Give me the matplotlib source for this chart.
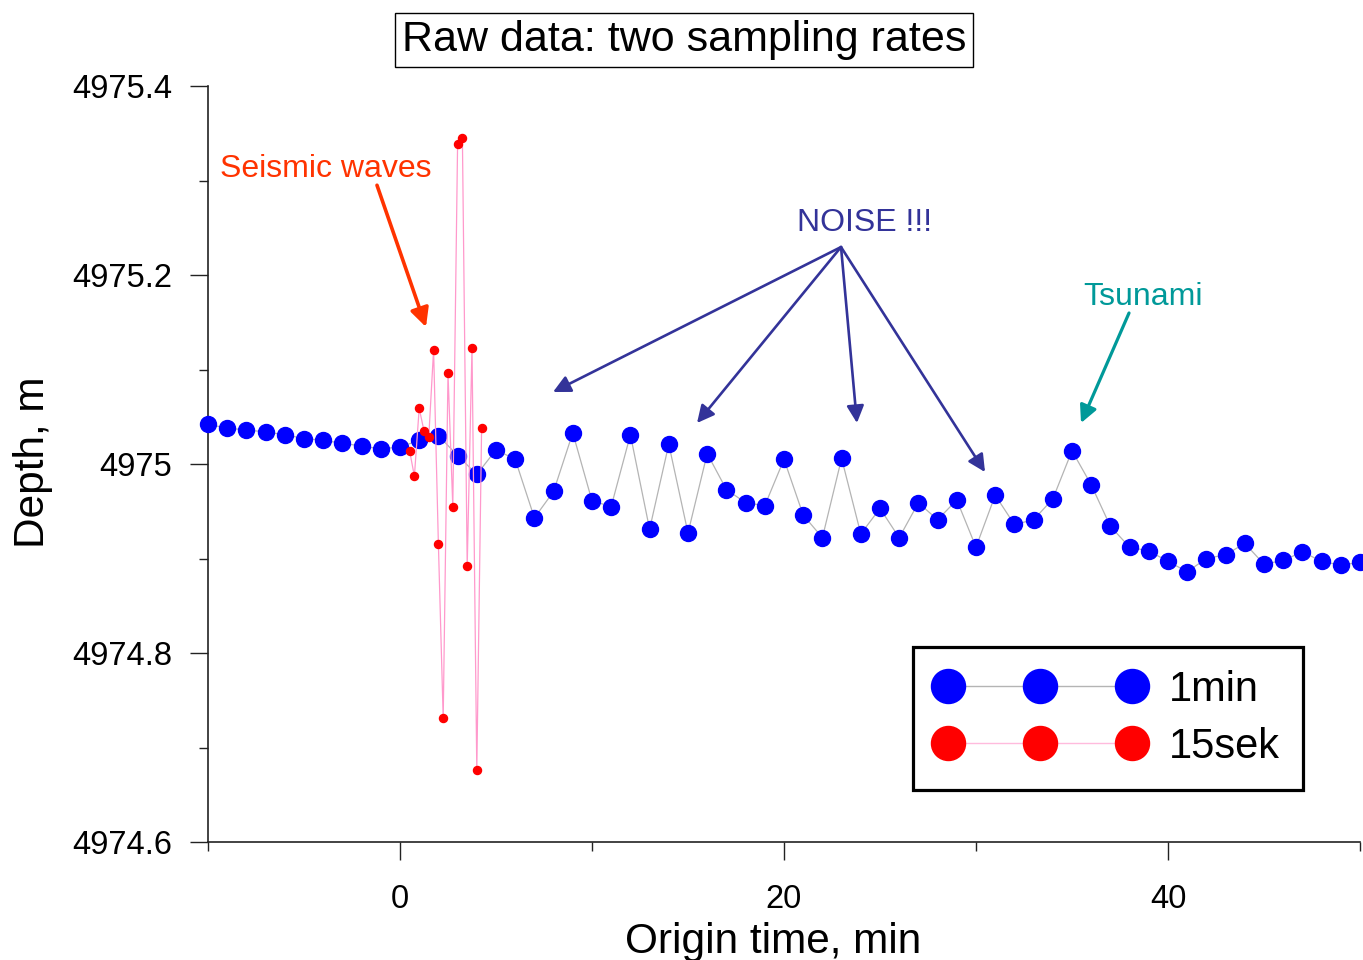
import matplotlib
matplotlib.use("Agg")
import matplotlib.pyplot as plt
from matplotlib.lines import Line2D
from matplotlib.ticker import FixedLocator, FixedFormatter

plt.rcParams['font.family'] = ['Liberation Sans', 'DejaVu Sans']

# 1-minute samples (minutes from origin time, depth in m)
t_1min = list(range(-10, 51))
depth_1min = [
    4975.042, 4975.038, 4975.036, 4975.034, 4975.031, 4975.027, 4975.025, 4975.022,
    4975.019, 4975.016, 4975.018, 4975.025, 4975.030, 4975.009, 4974.989, 4975.015,
    4975.005, 4974.943, 4974.971, 4975.033, 4974.961, 4974.955, 4975.031, 4974.931,
    4975.021, 4974.927, 4975.011, 4974.973, 4974.959, 4974.956, 4975.005, 4974.946,
    4974.922, 4975.006, 4974.926, 4974.953, 4974.922, 4974.959, 4974.941, 4974.962,
    4974.912, 4974.967, 4974.936, 4974.941, 4974.963, 4975.014, 4974.978, 4974.934,
    4974.912, 4974.908, 4974.897, 4974.886, 4974.900, 4974.904, 4974.916, 4974.894,
    4974.898, 4974.907, 4974.897, 4974.893, 4974.896,
]

# 15-second samples during the seismic waves
t_15sek = [0.5, 0.75, 1.0, 1.25, 1.5, 1.75, 2.0, 2.25,
           2.5, 2.75, 3.0, 3.25, 3.5, 3.75, 4.0, 4.25]
depth_15sek = [4975.014, 4974.987, 4975.059, 4975.035, 4975.029, 4975.121, 4974.915, 4974.731,
               4975.096, 4974.955, 4975.339, 4975.345, 4974.892, 4975.123, 4974.676, 4975.038]

x_major = [0, 20, 40]
x_minor = [-10, 10, 30, 50]
y_major = [4974.6, 4974.8, 4975.0, 4975.2, 4975.4]
y_labels = ['4974.6', '4974.8', '4975', '4975.2', '4975.4']
y_minor = [4974.7, 4974.9, 4975.1, 4975.3]

fig = plt.figure(figsize=(13.63, 9.6), dpi=100)
ax = fig.add_axes([0.1526, 0.1229, 0.8452, 0.7875])

ax.plot(t_1min, depth_1min, color='#b4b4b4', lw=0.9, marker='o', ms=11.5,
        mfc='#0000ff', mec='#0000ff', clip_on=False, zorder=3)
ax.plot(t_15sek, depth_15sek, color='#ff99cc', lw=0.9, marker='o', ms=5.8,
        mfc='#ff0000', mec='#ff0000', clip_on=False, zorder=4)

ax.set_xlim(-10, 50)
ax.set_ylim(4974.6, 4975.4)

ax.xaxis.set_major_locator(FixedLocator(x_major))
ax.xaxis.set_minor_locator(FixedLocator(x_minor))
ax.yaxis.set_major_locator(FixedLocator(y_major))
ax.yaxis.set_major_formatter(FixedFormatter(y_labels))
ax.yaxis.set_minor_locator(FixedLocator(y_minor))

for s in ['top', 'right']:
    ax.spines[s].set_visible(False)
for s in ['left', 'bottom']:
    ax.spines[s].set_color('#222222')
    ax.spines[s].set_linewidth(1.2)

ax.tick_params(which='major', length=13, width=1, color='#222222', labelsize=23.5)
ax.tick_params(which='minor', length=6.5, width=1, color='#222222')
ax.tick_params(axis='x', which='major', pad=17)
ax.tick_params(axis='y', which='major', pad=13)

fig.text(33 / 1363, 1 - 462 / 960, 'Depth, m', rotation=90, ha='center', va='center',
         fontsize=30.5)
fig.text(773 / 1363, 1 - 953 / 960, 'Origin time, min', ha='center', va='baseline',
         fontsize=30.5)
fig.text(684 / 1363, 1 - 40 / 960, 'Raw data: two sampling rates', ha='center', va='center',
         fontsize=31,
         bbox=dict(boxstyle='square,pad=0.16', fc='white', ec='black', lw=1))

# annotations
red_c = '#ff3300'
ax.text(-9.375, 4975.304, 'Seismic waves', color=red_c, fontsize=23, ha='left', va='baseline')
ax.annotate('', xy=(1.354, 4975.145), xytext=(-1.198, 4975.295),
            arrowprops=dict(arrowstyle='-|>', color=red_c, lw=2.6, mutation_scale=28,
                            shrinkA=0, shrinkB=0))

noise_c = '#333399'
ax.text(24.22, 4975.2466, 'NOISE !!!', color=noise_c, fontsize=23, ha='center', va='baseline')
for tip in [(7.97, 4975.0762), (15.47, 4975.0434), (23.80, 4975.0434), (30.47, 4974.9915)]:
    ax.annotate('', xy=tip, xytext=(22.97, 4975.2296),
                arrowprops=dict(arrowstyle='-|>', color=noise_c, lw=1.9, mutation_scale=26,
                                shrinkA=0, shrinkB=0))

tsu_c = '#009999'
ax.text(38.70, 4975.168, 'Tsunami', color=tsu_c, fontsize=23, ha='center', va='baseline')
ax.annotate('', xy=(35.47, 4975.0434), xytext=(37.97, 4975.1598),
            arrowprops=dict(arrowstyle='-|>', color=tsu_c, lw=2.3, mutation_scale=26,
                            shrinkA=0, shrinkB=0))

handles = [
    Line2D([], [], color='#b4b4b4', lw=1, marker='o', ms=24.5, mfc='#0000ff', mec='#0000ff'),
    Line2D([], [], color='#ffbbdd', lw=1, marker='o', ms=24.5, mfc='#ff0000', mec='#ff0000'),
]
leg = ax.legend(handles, ['1min', '15sek'], loc='upper left',
                bbox_to_anchor=((913 - 208) / 1152, (842 - 647) / 756),
                borderaxespad=0, numpoints=3, handlelength=5, handletextpad=0.6,
                borderpad=0.55, labelspacing=0.4, fontsize=30, fancybox=False,
                framealpha=1, edgecolor='black')
leg.get_frame().set_linewidth(2.3)

fig.savefig('out.png', dpi=100)
